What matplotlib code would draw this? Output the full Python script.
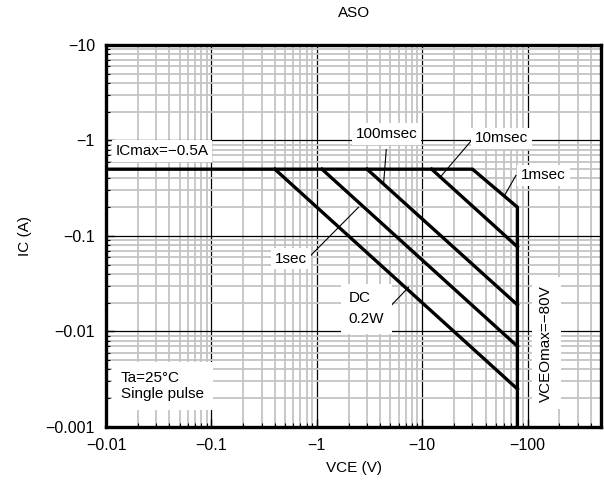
import numpy as np
import matplotlib
matplotlib.use('Agg')
import matplotlib.pyplot as plt
from matplotlib.ticker import FixedLocator, FixedFormatter, NullFormatter

plt.rcParams['font.family'] = ['Liberation Sans', 'DejaVu Sans']

# ── Data (magnitudes, axis labels show the negative sign) ───────────────────
x_ticks = [0.01, 0.1, 1, 10, 100]
x_labels = ['\u22120.01', '\u22120.1', '\u22121', '\u221210', '\u2212100']
y_ticks = [0.001, 0.01, 0.1, 1, 10]
y_labels = ['\u22120.001', '\u22120.01', '\u22120.1', '\u22121', '\u221210']

# 1msec envelope incl. ICmax and VCEOmax limits
ms1_v = [0.01, 30, 80, 80]
ms1_i = [0.5, 0.5, 0.2, 0.001]
ms10_v = [12.3, 80]
ms10_i = [0.5, 0.077]
ms100_v = [3.0, 80]
ms100_i = [0.5, 0.019]
s1_v = [1.12, 80]
s1_i = [0.5, 0.007]
dc_v = [0.4, 80]
dc_i = [0.5, 0.0025]

# ── Figure ──────────────────────────────────────────────────────────────────
fig = plt.figure(figsize=(6.04, 4.88), dpi=100)
ax = fig.add_axes([0.1755, 0.125, 0.820, 0.783])
ax.set_xscale('log')
ax.set_yscale('log')
ax.set_xlim(0.01, 500)
ax.set_ylim(0.001, 10)

minor = [m * 10.0**e for e in range(-3, 3) for m in range(2, 10)]
ax.xaxis.set_major_locator(FixedLocator(x_ticks))
ax.xaxis.set_major_formatter(FixedFormatter(x_labels))
ax.xaxis.set_minor_locator(FixedLocator(minor))
ax.xaxis.set_minor_formatter(NullFormatter())
ax.yaxis.set_major_locator(FixedLocator(y_ticks))
ax.yaxis.set_major_formatter(FixedFormatter(y_labels))
ax.yaxis.set_minor_locator(FixedLocator(minor))
ax.yaxis.set_minor_formatter(NullFormatter())

ax.grid(which='minor', color='#c4c4c4', lw=1.3, zorder=0)
ax.grid(which='major', color='black', lw=0.9, zorder=0.5)
ax.set_axisbelow(True)
ax.tick_params(which='major', direction='in', length=6, width=1, labelsize=11.5, pad=8)
ax.tick_params(which='minor', direction='in', length=3, width=0.8)
for s in ax.spines.values():
    s.set_linewidth(2.4)

lw = 2.4
ax.plot(ms1_v, ms1_i, color='black', lw=lw, solid_joinstyle='miter', zorder=3)
ax.plot(ms10_v, ms10_i, color='black', lw=lw, zorder=3)
ax.plot(ms100_v, ms100_i, color='black', lw=lw, zorder=3)
ax.plot(s1_v, s1_i, color='black', lw=lw, zorder=3)
ax.plot(dc_v, dc_i, color='black', lw=lw, zorder=3)

# leader lines
leaders = [((4.56, 0.80), (4.30, 0.35)),
           ((29.4, 1.0), (15.3, 0.43)),
           ((77.4, 0.43), (61.0, 0.27)),
           ((0.87, 0.062), (2.49, 0.20)),
           ((5.15, 0.019), (7.41, 0.029))]
for (xa, ya), (xb, yb) in leaders:
    ax.plot([xa, xb], [ya, yb], color='black', lw=0.8, zorder=2)

box = dict(facecolor='white', edgecolor='none', boxstyle='square,pad=0.25')
fs = 11
ax.text(0.034, 0.78, 'ICmax=\u22120.5A', fontsize=fs, ha='center', va='center', bbox=box, zorder=4)
ax.text(4.6, 1.17, '100msec', fontsize=fs, ha='center', va='center', bbox=box, zorder=4)
ax.text(56.5, 1.05, '10msec', fontsize=fs, ha='center', va='center', bbox=box, zorder=4)
ax.text(142, 0.43, '1msec', fontsize=fs, ha='center', va='center', bbox=box, zorder=4)
ax.text(0.567, 0.058, '1sec', fontsize=fs, ha='center', va='center', bbox=box, zorder=4)
ax.text(2.0, 0.0173, 'DC\n0.2W', fontsize=fs, ha='left', va='center', linespacing=1.6,
        bbox=dict(facecolor='white', edgecolor='none', boxstyle='square,pad=0.5'), zorder=4)
ax.text(0.0138, 0.00268, 'Ta=25\u00b0C\nSingle pulse', fontsize=fs, ha='left', va='center',
        linespacing=1.2, bbox=dict(facecolor='white', edgecolor='none', boxstyle='square,pad=0.6'), zorder=4)
ax.text(150, 0.0075, 'VCEOmax=\u221280V', fontsize=fs, ha='center', va='center', rotation=90,
        bbox=dict(facecolor='white', edgecolor='none', boxstyle='square,pad=0.5'), zorder=4)

ax.set_title('ASO', fontsize=11, pad=20)
ax.set_xlabel('VCE (V)', fontsize=11, labelpad=6)
ax.set_ylabel('IC (A)', fontsize=11, labelpad=10)

fig.savefig('out.png', dpi=100)
